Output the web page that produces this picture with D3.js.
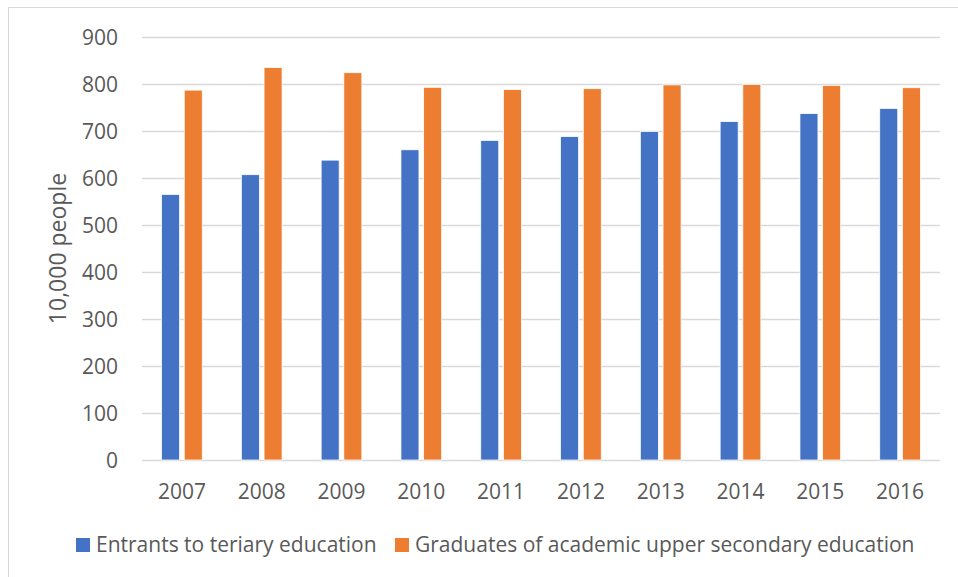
<!DOCTYPE html>
<html>
<head>
<meta charset="utf-8">
<script src="https://cdn.jsdelivr.net/npm/d3@7"></script>
<style>
  body { margin: 0; background: #fff; }
  svg { display: block; }
</style>
</head>
<body>
<div id="chart"></div>
<script>
// values (10,000 people)
const years = ["2007", "2008", "2009", "2010", "2011", "2012", "2013", "2014", "2015", "2016"];
const entrants = [565, 607, 638, 660, 680, 688, 699, 720, 737, 748];
const graduates = [787, 835, 824, 793, 788, 790, 798, 799, 797, 792];
const seriesNames = ["Entrants to teriary education", "Graduates of academic upper secondary education"];
const seriesColors = ["#4472C4", "#ED7D31"];
const yTicks = [0, 100, 200, 300, 400, 500, 600, 700, 800, 900];

const width = 958, height = 577;
const margin = {top: 37, right: 18, bottom: 117, left: 142};
const textColor = "#595959";
const font = "'Open Sans', sans-serif";

const svg = d3.select("#chart").append("svg")
    .attr("width", width)
    .attr("height", height)
    .style("font-family", font);

// chart frame (cut off at right/bottom like the screenshot)
svg.append("rect")
    .attr("x", 8.5).attr("y", 7.5)
    .attr("width", width).attr("height", height)
    .attr("fill", "none")
    .attr("stroke", "#d9d9d9")
    .attr("stroke-width", 1);

const x0 = d3.scaleBand()
    .domain(years)
    .range([margin.left, width - margin.right]);

const bw = x0.bandwidth();
const x1 = d3.scaleBand()
    .domain([0, 1])
    .range([bw * 0.245, bw * 0.755])
    .paddingInner(0.207);

const y = d3.scaleLinear()
    .domain([0, 900])
    .range([height - margin.bottom, margin.top]);

// gridlines
svg.append("g")
    .selectAll("line")
    .data(yTicks)
    .join("line")
        .attr("x1", margin.left)
        .attr("x2", width - margin.right)
        .attr("y1", d => Math.round(y(d)) + 0.5)
        .attr("y2", d => Math.round(y(d)) + 0.5)
        .attr("stroke", "#d9d9d9")
        .attr("stroke-width", 1.5);

// y tick labels
const yAxis = d3.axisLeft(y).tickValues(yTicks).tickSize(0).tickPadding(0);
const gy = svg.append("g")
    .attr("transform", `translate(${margin.left - 24},0)`)
    .call(yAxis);
gy.select(".domain").remove();
gy.selectAll("text")
    .attr("fill", textColor)
    .style("font-family", font)
    .style("font-size", "21px")
    .attr("dy", "0.36em");

// x tick labels
const xAxis = d3.axisBottom(x0).tickSize(0).tickPadding(0);
const gx = svg.append("g")
    .attr("transform", `translate(0,${height - margin.bottom})`)
    .call(xAxis);
gx.select(".domain").remove();
gx.selectAll("text")
    .attr("fill", textColor)
    .style("font-family", font)
    .style("font-size", "21px")
    .attr("y", 39)
    .attr("dy", 0);

// bars
const rows = years.map((yr, i) => ({year: yr, vals: [entrants[i], graduates[i]]}));
svg.append("g")
    .selectAll("g")
    .data(rows)
    .join("g")
        .attr("transform", d => `translate(${x0(d.year)},0)`)
    .selectAll("rect")
    .data(d => d.vals.map((v, k) => ({k, v})))
    .join("rect")
        .attr("x", d => x1(d.k))
        .attr("width", x1.bandwidth())
        .attr("y", d => y(d.v))
        .attr("height", d => y(0) - y(d.v))
        .attr("fill", d => seriesColors[d.k])
        .attr("stroke", "#fff")
        .attr("stroke-width", 0.75);

// y axis title
svg.append("text")
    .attr("transform", `translate(66,${(y(0) + y(900)) / 2}) rotate(-90)`)
    .attr("text-anchor", "middle")
    .attr("fill", textColor)
    .style("font-size", "23px")
    .text("10,000 people");

// legend
const legendX = [76, 395];
const legend = svg.append("g")
    .selectAll("g")
    .data(seriesNames)
    .join("g")
        .attr("transform", (d, i) => `translate(${legendX[i]},538)`);
legend.append("rect")
    .attr("width", 14).attr("height", 14)
    .attr("fill", (d, i) => seriesColors[i]);
legend.append("text")
    .attr("x", 20)
    .attr("y", 14)
    .attr("fill", textColor)
    .style("font-size", "21px")
    .text(d => d);
</script>
</body>
</html>
